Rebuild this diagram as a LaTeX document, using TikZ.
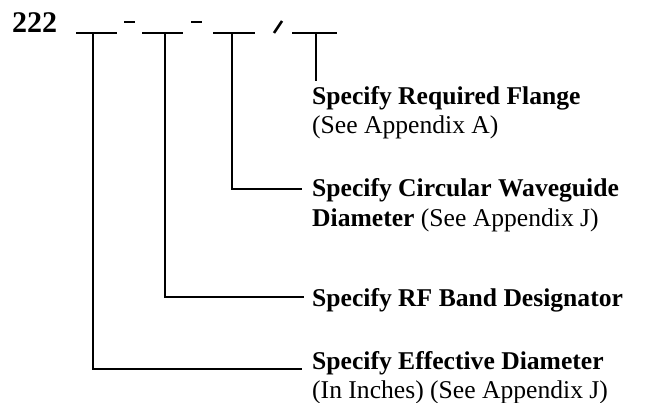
\documentclass[tikz,border=0pt]{standalone}
\usepackage{fontspec}
\setmainfont{Liberation Serif}
\begin{document}
\begin{tikzpicture}[x=1pt,y=-1pt,
  wire/.style={line width=2.6pt, line join=miter},
  lbl/.style={anchor=base west, inner sep=0pt, font=\fontsize{25.6}{29}\selectfont},
  code/.style={anchor=base west, inner sep=0pt, font=\bfseries\fontsize{30}{34}\selectfont}]
\useasboundingbox (0,0) rectangle (647,403);
% part number
\node[code] (num) at (12,33) {222};
% blanks
\coordinate (a1) at (76,33);  \coordinate (b1) at (117,33);
\coordinate (a2) at (142,33); \coordinate (b2) at (183,33);
\coordinate (a3) at (213,33); \coordinate (b3) at (255,33);
\coordinate (a4) at (292,33); \coordinate (b4) at (337,33);
\draw[wire] (a1) -- (b1);
\draw[wire] (a2) -- (b2);
\draw[wire] (a3) -- (b3);
\draw[wire] (a4) -- (b4);
% separators
\coordinate (d1a) at (124,22); \coordinate (d1b) at (135,22);
\coordinate (d2a) at (191,22); \coordinate (d2b) at (202,22);
\coordinate (sla) at (274,33); \coordinate (slb) at (282,21);
\draw[wire] (d1a) -- (d1b);
\draw[wire] (d2a) -- (d2b);
\draw[wire] (sla) -- (slb);
% labels
\node[lbl] (flange) at (312,105) {\begin{tabular}[t]{@{}l@{}}\textbf{Specify Required Flange}\\(See Appendix A)\end{tabular}};
\node[lbl] (circ) at (312,197) {\begin{tabular}[t]{@{}l@{}}\textbf{Specify Circular Waveguide}\\\textbf{Diameter} (See Appendix J)\end{tabular}};
\node[lbl] (rf) at (312,306) {\textbf{Specify RF Band Designator}};
\node[lbl] (eff) at (312,369) {\begin{tabular}[t]{@{}l@{}}\textbf{Specify Effective Diameter}\\(In Inches) (See Appendix J)\end{tabular}};
% leaders
\coordinate (t1) at (93,33);  \coordinate (e1) at (302,369);
\coordinate (t2) at (165,33); \coordinate (e2) at (304,297);
\coordinate (t3) at (232,33); \coordinate (e3) at (302,189);
\coordinate (t4) at (316,33); \coordinate (e4) at (316,81);
\draw[wire] (t1) |- (e1);
\draw[wire] (t2) |- (e2);
\draw[wire] (t3) |- (e3);
\draw[wire] (t4) -- (e4);
\end{tikzpicture}
\end{document}
